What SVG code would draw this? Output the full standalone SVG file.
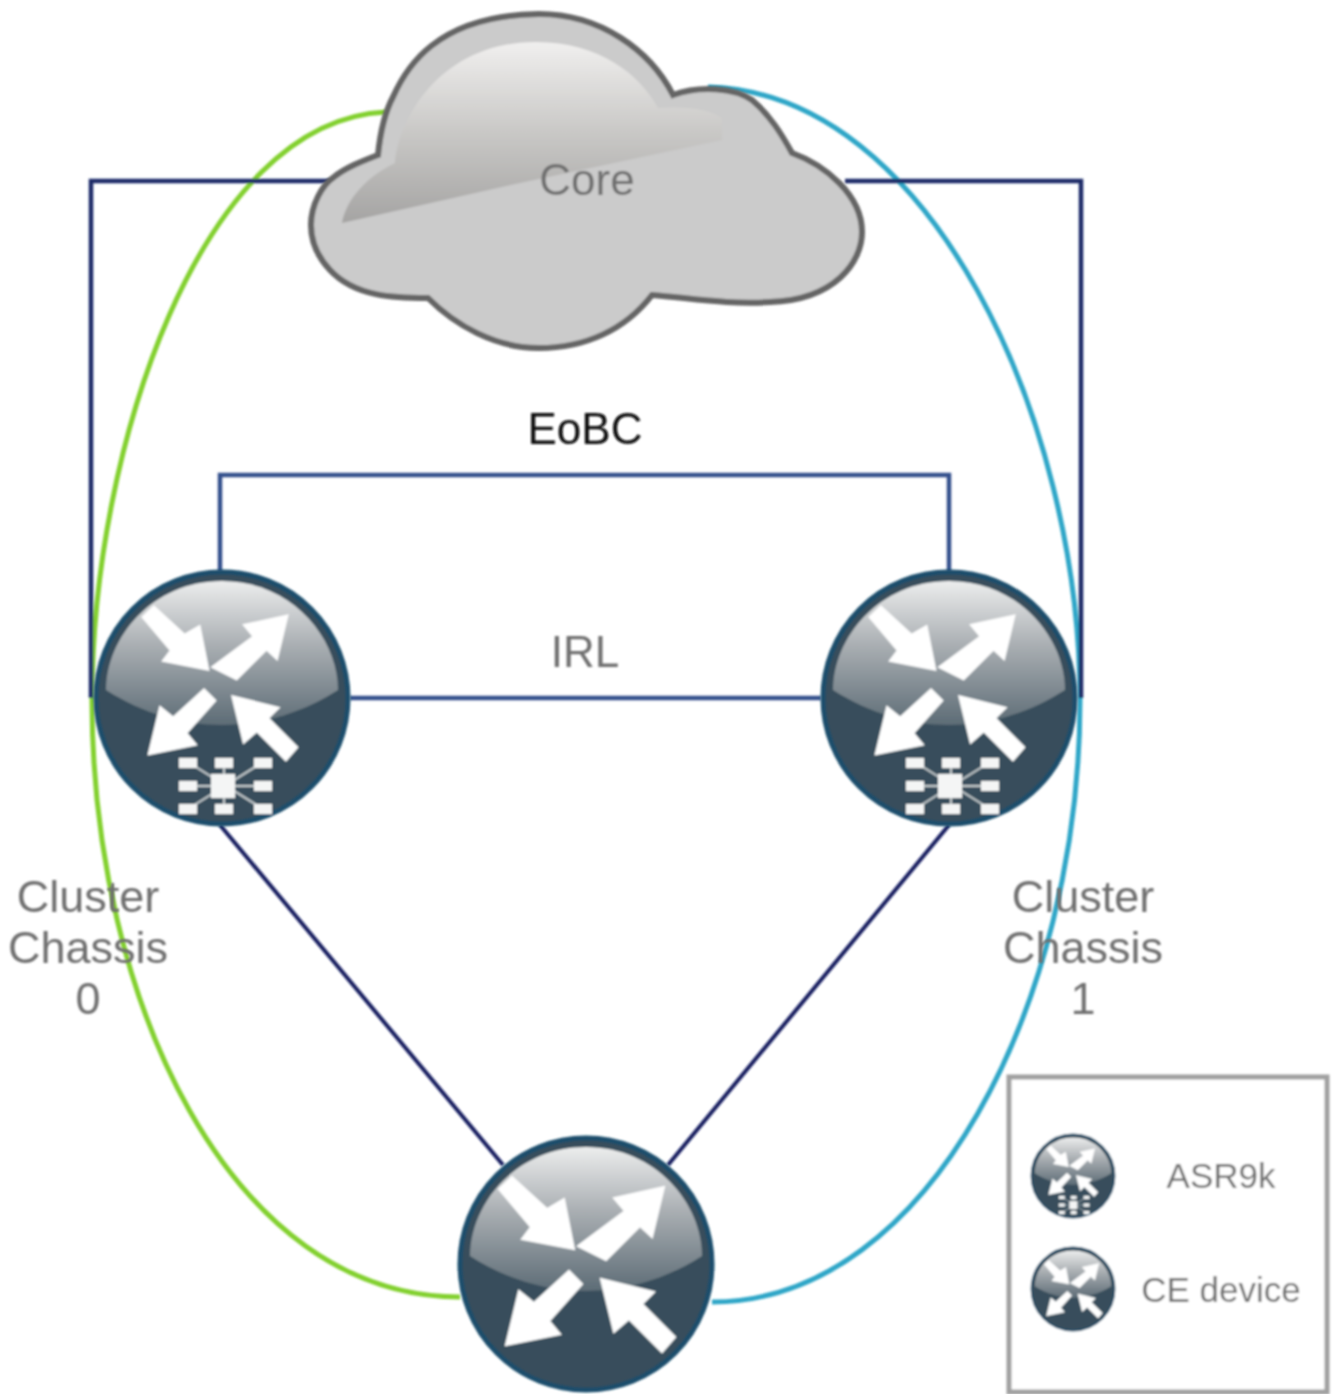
<svg xmlns="http://www.w3.org/2000/svg" width="1332" height="1394" viewBox="0 0 1332 1394">
<style>
text{font-family:"Liberation Sans",Arial,sans-serif;fill:#6f6f6f;text-anchor:middle;font-size:45px}
.mid{font-size:44px}
.legend{font-size:35px}
.frame{fill:none;stroke:#1a2a68;stroke-width:4.5}
.eobc{fill:none;stroke:#34508c;stroke-width:4.5}
.diag{fill:none;stroke:#141f60;stroke-width:4}
.green{fill:none;stroke:#82d02f;stroke-width:5}
.teal{fill:none;stroke:#2fa6c7;stroke-width:5}
</style>
<defs>
<filter id="soft" x="-5%" y="-5%" width="110%" height="110%"><feGaussianBlur stdDeviation="0.8"/></filter>
<linearGradient id="glass" x1="0" y1="0" x2="0" y2="1">
<stop offset="0" stop-color="#eceded"/><stop offset=".45" stop-color="#a9aeb2"/><stop offset="1" stop-color="#5d6c76"/>
</linearGradient>
<linearGradient id="shine" x1="0" y1="0" x2="0" y2="1">
<stop offset="0" stop-color="#f0efee"/><stop offset=".5" stop-color="#c9c8c6"/><stop offset="1" stop-color="#a5a4a3"/>
</linearGradient>
<g id="sphere">
<circle r="126" fill="#394e5b" stroke="#1c4e6c" stroke-width="5"/>
<path d="M-116,-8C-116,-60-70,-117 0,-117C70,-117 116,-60 116,-8C80,15 40,27 0,27C-40,27-80,15-116,-8Z" fill="url(#glass)"/>
</g>
<g id="arrows" fill="#fff" stroke="#fff" stroke-width="2" stroke-linejoin="miter">
<path d="M-74,-87L-39,-55L-22,-65L-12,-15L-64,-25L-55,-37L-87,-75Z"/>
<path d="M78,-77L28,-66L39,-53L-8,-18L20,-4L54,-38L66,-27Z"/>
<path d="M-80,81L-26,70L-37,57L-4,20L-17,7L-52,39L-67,27Z"/>
<path d="M15,15L68,28L56,40L89,73L76,88L43,55L28,68Z"/>
</g>
<g id="ce"><use href="#sphere"/><use href="#arrows"/></g>
<g id="asr">
<use href="#sphere"/>
<use href="#arrows" transform="translate(-3,-15) scale(.88)"/>
<g stroke="#c5cbce" stroke-width="2"><path d="M-34,64L41,111M41,64L-34,111M-34,88H41M2,64V111"/></g>
<g fill="#f4f5f5">
<rect x="-43" y="60" width="18" height="10"/><rect x="-7" y="60" width="18" height="10"/><rect x="32" y="60" width="18" height="10"/>
<rect x="-43" y="83" width="18" height="10"/><rect x="32" y="83" width="18" height="10"/>
<rect x="-43" y="106" width="18" height="10"/><rect x="-7" y="106" width="18" height="10"/><rect x="32" y="106" width="18" height="10"/>
<rect x="-11" y="76" width="24" height="24"/>
</g>
</g>
</defs>
<rect width="1332" height="1394" fill="#fff"/>
<g id="connectors" filter="url(#soft)">
<path class="green" d="M386,112C200,120 92,450 92,700C92,1000 230,1297 460,1297"/>
<path class="teal" d="M708,87C930,92 1080,420 1080,700C1080,1000 930,1302 712,1302"/>
<path class="frame" d="M91,698V181H330"/>
<path class="frame" d="M845,181H1081V698"/>
<path class="eobc" d="M220,572V475H949V572"/>
<path class="eobc" d="M350,698H821"/>
<path class="diag" d="M220,825L503,1165"/>
<path class="diag" d="M949,825L668,1165"/>
</g>
<g id="core" filter="url(#soft)">
<path d="M378,155C380,135 385,112 393,97C405,70 435,15 539,14C600,14 650,50 673,95C700,85 735,88 752,100C770,115 782,135 792,153C825,165 862,195 862,232C862,262 835,300 770,302C730,305 690,298 652,295C625,330 585,348 539,348C495,348 455,325 428,298C395,298 355,297 330,270C316,255 311,240 311,225C311,205 322,185 334,177C345,168 360,162 378,155Z" fill="#cbcbcb" stroke="#656565" stroke-width="6"/>
<path d="M342,223C345,205 360,180 395,163C398,120 440,42 536,42C600,42 640,75 658,108C690,106 710,110 722,118L722,140L520,183Z" fill="url(#shine)"/>
<text class="mid" x="587" y="195">Core</text>
</g>
<g id="router-chassis-0" filter="url(#soft)"><use href="#asr" transform="translate(222,698)"/></g>
<g id="router-chassis-1" filter="url(#soft)"><use href="#asr" transform="translate(949,698)"/></g>
<g id="router-ce" filter="url(#soft)"><use href="#ce" transform="translate(586,1264)"/></g>
<g id="labels" filter="url(#soft)">
<text class="mid" x="585" y="444" style="fill:#0a0a0a">EoBC</text>
<text class="mid" x="585" y="667">IRL</text>
<text x="88" y="912">Cluster</text>
<text x="88" y="963">Chassis</text>
<text x="88" y="1014">0</text>
<text x="1083" y="912">Cluster</text>
<text x="1083" y="963">Chassis</text>
<text x="1083" y="1014">1</text>
</g>
<g id="legend" filter="url(#soft)">
<rect x="1009" y="1077" width="318" height="315" fill="#fff" stroke="#a0a0a0" stroke-width="5"/>
<use href="#asr" transform="translate(1073,1176) scale(.33)"/>
<use href="#ce" transform="translate(1073,1289) scale(.33)"/>
<text class="legend" x="1221" y="1188">ASR9k</text>
<text class="legend" x="1221" y="1302">CE device</text>
</g>
</svg>
